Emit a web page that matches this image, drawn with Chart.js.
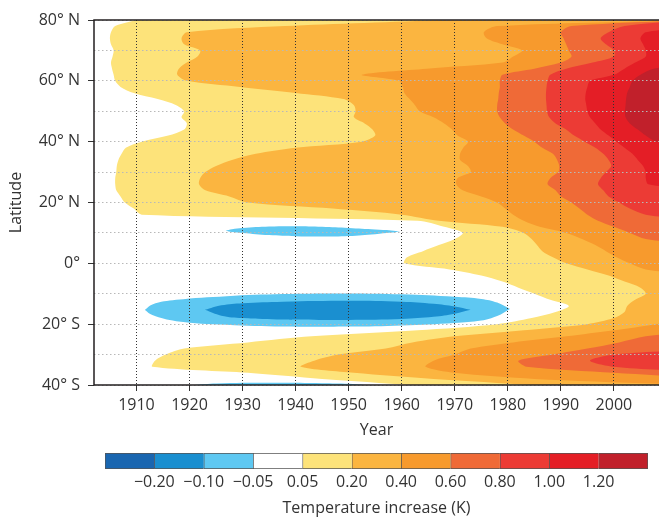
<!DOCTYPE html>
<html>
<head>
<meta charset="utf-8">
<script src="https://cdn.jsdelivr.net/npm/chart.js@4"></script>
<style>
  html, body { margin: 0; padding: 0; background: #fff; }
  #main { position: absolute; left: 0; top: 0; }
  #bar { position: absolute; left: 0; top: 440px; }
</style>
</head>
<body>
<canvas id="main" width="659" height="440"></canvas>
<canvas id="bar" width="659" height="78"></canvas>
<script>
// Zonal-mean temperature change (latitude x year) redrawn as filled contour bands.
// Each "fromXXX" array gives, per latitude row, the year where that contour level
// is first reached (2015 = not reached inside the plotted years).
const latitudes = [80, 78, 76, 74, 72, 70, 68, 66, 64, 62,
                   60, 58, 56, 54, 52, 50, 48, 46, 44, 42,
                   40, 38, 36, 34, 32, 30, 28, 26, 24, 22,
                   20, 18, 16, 14, 12, 10, 8, 6, 4, 2,
                   0, -2, -4, -6, -8, -10, -12, -14, -16, -18,
                   -20, -22, -24, -26, -28, -30, -32, -34, -36, -38,
                   -40];
const from005 = [1910, 1906, 1905.2, 1905, 1905.2, 1905.7, 1905.5, 1905.2, 1905.4, 1905.7,
                 1906, 1907, 1909.5, 1914, 1917.5, 1919, 1918.5, 1919.5, 1919, 1916,
                 1911, 1908, 1907.2, 1906.6, 1906.3, 1906.2, 1906, 1906, 1906.2, 1907,
                 1907.8, 1909.5, 1911, 1963, 1968, 1971.5, 1970, 1967, 1964, 1961,
                 1960.5, 1969, 1975, 1979, 1982, 1985, 1988, 1991.5, 1989, 1984.5,
                 1978, 1963, 1943, 1931, 1919, 1915.5, 1913.5, 1913, 1931, 1945,
                 1962];
const from020 = [1968, 1938, 1919.5, 1918.5, 1919, 1922, 1921.5, 1919.5, 1918, 1917.7,
                 1919.5, 1929.5, 1940, 1949, 1951, 1951.3, 1951, 1953, 1954.5, 1955,
                 1952.5, 1940, 1932.5, 1928, 1925, 1923, 1922, 1921.8, 1923, 1927.5,
                 1931, 1947, 1960, 1967, 1979, 1983, 1984.5, 1985.5, 1986.5, 1988.5,
                 1991, 1995, 1999, 2002, 2005, 2006, 2004, 2002.5, 2002, 2000,
                 1995, 1983, 1970, 1962, 1957, 1948, 1943.5, 1941, 1951, 1966,
                 1985];
const from040 = [2015, 1978, 1975.5, 1976, 1979, 1982.7, 1981, 1979, 1964.7, 1952.5,
                 1959.5, 1960.2, 1960.5, 1961.5, 1962.5, 1963.4, 1966, 1968, 1969.5, 1970.5,
                 1972.5, 1971.6, 1971, 1971, 1972.5, 1973, 1970.5, 1970.3, 1971.5, 1975,
                 1978, 1979.5, 1981, 1983, 1986, 1991, 1994, 1996.5, 1998.5, 2000.5,
                 2003, 2006, 2015, 2015, 2015, 2015, 2015, 2015, 2015, 2015,
                 2008, 2000, 1991, 1981, 1973, 1970, 1966, 1964.5, 1970, 1985,
                 2015];
const from060 = [2015, 1992, 1990, 1990.5, 1991, 1991.5, 1992, 1990, 1985, 1979,
                 1978.5, 1978.5, 1978.3, 1978.2, 1978, 1978, 1978.5, 1979.5, 1981, 1983,
                 1985, 1986.5, 1988.5, 1989.3, 1989.7, 1989.5, 1988, 1987.5, 1989, 1990,
                 1992, 1993.5, 1995, 1997, 2000, 2003, 2006, 2015, 2015, 2015,
                 2015, 2015, 2015, 2015, 2015, 2015, 2015, 2015, 2015, 2015,
                 2015, 2015, 2006, 2001, 1995, 1988.5, 1982, 1983.5, 2000, 2015,
                 2015];
const from080 = [2015, 2002, 1999, 1997.5, 1998.5, 2000, 2000, 1996, 1991, 1988,
                 1987.5, 1987.3, 1987.2, 1987.2, 1987.3, 1987.4, 1987.8, 1989, 1991, 1992.5,
                 1994.5, 1996.5, 1998, 1999, 1999.5, 1998.5, 1997.5, 1997, 1998, 1999,
                 2001, 2003, 2006, 2015, 2015, 2015, 2015, 2015, 2015, 2015,
                 2015, 2015, 2015, 2015, 2015, 2015, 2015, 2015, 2015, 2015,
                 2015, 2015, 2015, 2015, 2015, 2000, 1995.5, 2000, 2015, 2015,
                 2015];
const from100 = [2015, 2015, 2006, 2005, 2005.5, 2006, 2006, 2004, 2002, 2000,
                 1995.5, 1995, 1994.7, 1994.6, 1994.8, 1995, 1995.5, 1996.5, 1997.5, 1999,
                 2000.5, 2002, 2003.5, 2004.5, 2005.5, 2006, 2006, 2006.5, 2015, 2015,
                 2015, 2015, 2015, 2015, 2015, 2015, 2015, 2015, 2015, 2015,
                 2015, 2015, 2015, 2015, 2015, 2015, 2015, 2015, 2015, 2015,
                 2015, 2015, 2015, 2015, 2015, 2015, 2015, 2015, 2015, 2015,
                 2015];
const from120 = [2015, 2015, 2015, 2015, 2015, 2015, 2015, 2015, 2007.5, 2005,
                 2003.5, 2003, 2002.5, 2002.3, 2002.2, 2002.1, 2002.2, 2003, 2004.5, 2006,
                 2008, 2015, 2015, 2015, 2015, 2015, 2015, 2015, 2015, 2015,
                 2015, 2015, 2015, 2015, 2015, 2015, 2015, 2015, 2015, 2015,
                 2015, 2015, 2015, 2015, 2015, 2015, 2015, 2015, 2015, 2015,
                 2015, 2015, 2015, 2015, 2015, 2015, 2015, 2015, 2015, 2015,
                 2015];

// cool patches (below -0.05 K): year, upper latitude, lower latitude
const coolNYears  = [1926.8, 1928, 1930, 1935, 1940, 1945, 1950, 1955, 1958, 1959.7];
const coolNTop    = [10.7, 11.2, 11.6, 12.1, 12.2, 12.0, 11.6, 11.1, 10.8, 10.5];
const coolNBottom = [10.7, 10.3, 10.0, 9.3, 8.9, 8.8, 9.0, 9.6, 10.1, 10.5];
const coolSYears  = [1911.6, 1913, 1917.5, 1927, 1937.6, 1950, 1960, 1970, 1975, 1978, 1980.4];
const coolSTop    = [-15.3, -13.5, -12, -10.8, -10.1, -9.9, -10.2, -11, -11.7, -12.9, -15];
const coolSBottom = [-15.3, -17, -19, -20.2, -20.8, -20.8, -20.4, -19.6, -18.8, -17.3, -15];
const coreSYears  = [1922.9, 1926, 1930, 1937.6, 1950, 1960, 1966, 1970, 1973];
const coreSTop    = [-15.3, -13.8, -13.1, -12.6, -12.3, -12.6, -13.3, -14.2, -15.3];
const coreSBottom = [-15.3, -17.2, -18, -18.5, -18.6, -18.3, -17.6, -16.6, -15.3];
const coolEdgeYears  = [1921, 1925, 1935, 1945, 1950, 1953];
const coolEdgeTop    = [-40, -39.5, -39.3, -39.4, -39.6, -40];
const coolEdgeBottom = [-40.5, -40.5, -40.5, -40.5, -40.5, -40.5];

const levels = ['\u22120.20', '\u22120.10', '\u22120.05', '0.05', '0.20', '0.40', '0.60', '0.80', '1.00', '1.20'];
const levelColors = ['#1a66b0', '#1a8fd0', '#5ec8f2', '#ffffff', '#fde37a', '#fbb540',
                     '#f79a2d', '#ef6a37', '#ec3b35', '#e41e26', '#c1202b'];
const yearTicks = [1910, 1920, 1930, 1940, 1950, 1960, 1970, 1980, 1990, 2000];
const latLabels = { '80': '80° N', '60': '60° N', '40': '40° N', '20': '20° N', '0': '0°', '-20': '20° S', '-40': '40° S' };

const X_MIN = 1902, X_MAX = 2008.5;
Chart.defaults.font.family = '"Open Sans", sans-serif';
Chart.defaults.font.size = 16;
Chart.defaults.color = '#333';

function band(starts, color, order) {
  return { data: latitudes.map((lat, i) => ({ x: starts[i], y: lat })), indexAxis: 'y',
           fill: { value: X_MAX }, backgroundColor: color, borderColor: 'rgba(0,0,0,0)', borderWidth: 0,
           pointRadius: 0, tension: 0.3, order: order };
}
function patch(years, top, bottom, color, order) {
  const common = { indexAxis: 'x', backgroundColor: color, borderColor: 'rgba(0,0,0,0)', borderWidth: 0,
                   pointRadius: 0, tension: 0.4, order: order };
  return [
    Object.assign({ data: years.map((yr, i) => ({ x: yr, y: top[i] })), fill: '+1' }, common),
    Object.assign({ data: years.map((yr, i) => ({ x: yr, y: bottom[i] })), fill: false }, common)
  ];
}

const datasets = [
  band(from005, levelColors[4], 20),
  band(from020, levelColors[5], 19),
  band(from040, levelColors[6], 18),
  band(from060, levelColors[7], 17),
  band(from080, levelColors[8], 16),
  band(from100, levelColors[9], 15),
  band(from120, levelColors[10], 14)
].concat(
  patch(coolNYears, coolNTop, coolNBottom, levelColors[2], 3),
  patch(coolSYears, coolSTop, coolSBottom, levelColors[2], 3),
  patch(coreSYears, coreSTop, coreSBottom, levelColors[1], 2),
  patch(coolEdgeYears, coolEdgeTop, coolEdgeBottom, levelColors[2], 3)
);

// solid axis frame on top, right side left open
const frame = {
  id: 'frame',
  afterDraw(chart) {
    const { ctx, chartArea: a } = chart;
    ctx.save();
    ctx.strokeStyle = '#231f20';
    ctx.lineWidth = 1.5;
    ctx.beginPath();
    ctx.moveTo(a.right, a.top); ctx.lineTo(a.left, a.top);
    ctx.lineTo(a.left, a.bottom); ctx.lineTo(a.right, a.bottom);
    ctx.stroke();
    ctx.restore();
  }
};

new Chart(document.getElementById('main'), {
  type: 'line',
  data: { datasets: datasets },
  options: {
    responsive: false, animation: false, events: [],
    layout: { padding: { top: 20, left: 0, right: 0, bottom: 0 } },
    plugins: { legend: { display: false }, tooltip: { enabled: false } },
    scales: {
      x: {
        type: 'linear', min: X_MIN, max: X_MAX,
        afterBuildTicks: s => { s.ticks = yearTicks.map(v => ({ value: v })); },
        afterFit: s => { s.height = 55; },
        ticks: { padding: 5, maxRotation: 0, autoSkip: false, callback: v => String(v) },
        grid: { color: '#333', z: 1, tickLength: 6, tickColor: '#333' },
        border: { display: false, dash: [1, 2] },
        title: { display: true, text: 'Year', padding: { top: 0, bottom: 0 } }
      },
      y: {
        type: 'linear', min: -40, max: 80,
        afterFit: s => { s.width = 94; },
        ticks: { stepSize: 10, padding: 8, autoSkip: false, callback: v => latLabels[v] || '' },
        grid: { color: '#b8b8b8', z: 1, tickLength: 6,
                tickColor: c => (c.tick && latLabels[c.tick.value] !== undefined ? '#333' : 'rgba(0,0,0,0)') },
        border: { display: false, dash: [1.5, 2.5] },
        title: { display: true, text: 'Latitude', padding: { top: 7, bottom: 0 } }
      }
    }
  },
  plugins: [frame]
});

// colour key
new Chart(document.getElementById('bar'), {
  type: 'bar',
  data: {
    labels: [''],
    datasets: levelColors.map((c, i) => ({
      data: [1], backgroundColor: c, borderColor: '#555', borderSkipped: false,
      borderWidth: { top: 1, bottom: 1, left: 1, right: i === levelColors.length - 1 ? 1 : 0 },
      barPercentage: 1, categoryPercentage: 1
    }))
  },
  options: {
    indexAxis: 'y', responsive: false, animation: false, events: [],
    layout: { padding: { left: 105, right: 11, top: 13, bottom: 0 } },
    plugins: { legend: { display: false }, tooltip: { enabled: false } },
    scales: {
      x: {
        stacked: true, min: 0, max: 11,
        afterBuildTicks: s => { s.ticks = levels.map((t, i) => ({ value: i + 1 })); },
        afterFit: s => { s.height = 49; },
        ticks: { callback: v => levels[v - 1], padding: 4, maxRotation: 0, autoSkip: false },
        grid: { display: false, drawTicks: false },
        border: { display: false },
        title: { display: true, text: 'Temperature increase (K)', padding: { top: 0, bottom: 0 } }
      },
      y: { stacked: true, display: false }
    }
  }
});
</script>
</body>
</html>
